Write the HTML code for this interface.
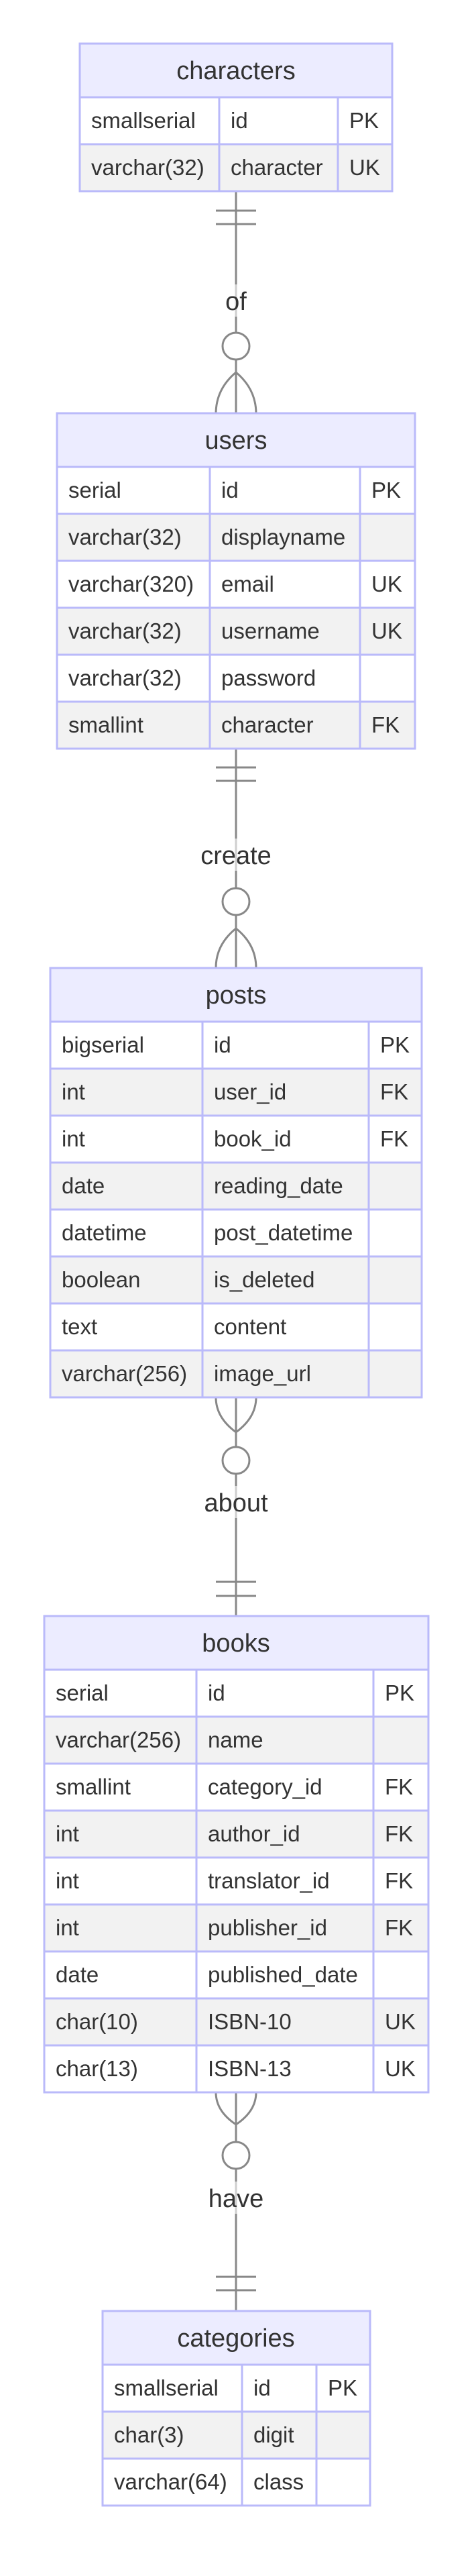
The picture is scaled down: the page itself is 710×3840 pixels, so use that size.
<!DOCTYPE html>
<html><head><meta charset="utf-8"><style>
html,body{margin:0;padding:0;background:#fff}
svg{display:block}
text{font-family:"Liberation Sans",Arial,sans-serif;fill:#333}
.c{font-size:33px}
.h{font-size:38px}
.l{font-size:38px}
.tb{fill:none;stroke:#babafa;stroke-width:3}
.ln{stroke:#888;stroke-width:3;fill:none}
</style></head><body>
<svg width="710" height="3840" viewBox="0 0 710 3840" xmlns="http://www.w3.org/2000/svg">
<!-- connectors -->
<g class="ln">
<line x1="352" y1="285" x2="352" y2="617"/>
<line x1="322" y1="314" x2="382" y2="314"/><line x1="322" y1="334" x2="382" y2="334"/>
<path d="M322,617 Q322,580 352,555 M382,617 Q382,580 352,555"/>
<circle cx="352" cy="516" r="20" fill="#fff"/>

<line x1="352" y1="1116" x2="352" y2="1443"/>
<line x1="322" y1="1144" x2="382" y2="1144"/><line x1="322" y1="1164" x2="382" y2="1164"/>
<path d="M322,1443 Q322,1408 352,1384 M382,1443 Q382,1408 352,1384"/>
<circle cx="352" cy="1344" r="20" fill="#fff"/>

<line x1="352" y1="2083" x2="352" y2="2409"/>
<line x1="322" y1="2358" x2="382" y2="2358"/><line x1="322" y1="2379" x2="382" y2="2379"/>
<path d="M322,2083 Q322,2113 352,2135 M382,2083 Q382,2113 352,2135"/>
<circle cx="352" cy="2177" r="20" fill="#fff"/>

<line x1="352" y1="3119" x2="352" y2="3445"/>
<line x1="322" y1="3394" x2="382" y2="3394"/><line x1="322" y1="3414" x2="382" y2="3414"/>
<path d="M322,3119 Q322,3147 352,3167 M382,3119 Q382,3147 352,3167"/>
<circle cx="352" cy="3213" r="20" fill="#fff"/>
</g>
<g fill="#fff" fill-opacity="0.6">
<rect x="330" y="424" width="44" height="48"/>
<rect x="297" y="1250" width="110" height="48"/>
<rect x="300" y="2215" width="104" height="48"/>
<rect x="308" y="3252" width="88" height="48"/>
</g>
<g class="l" text-anchor="middle">
<text x="352" y="462">of</text>
<text x="352" y="1288">create</text>
<text x="352" y="2253">about</text>
<text x="352" y="3290">have</text>
</g>

<!-- characters -->
<rect x="119" y="65" width="466" height="80" fill="#ececff"/>
<rect x="119" y="145" width="466" height="70" fill="#fff"/>
<rect x="119" y="215" width="466" height="70" fill="#f2f2f2"/>
<g class="tb"><rect x="119" y="65" width="466" height="220"/>
<line x1="119" y1="145" x2="585" y2="145"/><line x1="119" y1="215" x2="585" y2="215"/>
<line x1="327" y1="145" x2="327" y2="285"/><line x1="504" y1="145" x2="504" y2="285"/></g>
<text class="h" x="352" y="118" text-anchor="middle">characters</text>
<g class="c">
<text x="136" y="191">smallserial</text><text x="344" y="191">id</text><text x="521" y="191">PK</text>
<text x="136" y="261">varchar(32)</text><text x="344" y="261">character</text><text x="521" y="261">UK</text>
</g>

<!-- users -->
<rect x="85" y="616" width="534" height="80" fill="#ececff"/>
<rect x="85" y="696" width="534" height="70" fill="#fff"/>
<rect x="85" y="766" width="534" height="70" fill="#f2f2f2"/>
<rect x="85" y="836" width="534" height="70" fill="#fff"/>
<rect x="85" y="906" width="534" height="70" fill="#f2f2f2"/>
<rect x="85" y="976" width="534" height="70" fill="#fff"/>
<rect x="85" y="1046" width="534" height="70" fill="#f2f2f2"/>
<g class="tb"><rect x="85" y="616" width="534" height="500"/>
<line x1="85" y1="696" x2="619" y2="696"/><line x1="85" y1="766" x2="619" y2="766"/><line x1="85" y1="836" x2="619" y2="836"/><line x1="85" y1="906" x2="619" y2="906"/><line x1="85" y1="976" x2="619" y2="976"/><line x1="85" y1="1046" x2="619" y2="1046"/>
<line x1="313" y1="696" x2="313" y2="1116"/><line x1="537" y1="696" x2="537" y2="1116"/></g>
<text class="h" x="352" y="669" text-anchor="middle">users</text>
<g class="c">
<text x="102" y="742">serial</text><text x="330" y="742">id</text><text x="554" y="742">PK</text>
<text x="102" y="812">varchar(32)</text><text x="330" y="812">displayname</text>
<text x="102" y="882">varchar(320)</text><text x="330" y="882">email</text><text x="554" y="882">UK</text>
<text x="102" y="952">varchar(32)</text><text x="330" y="952">username</text><text x="554" y="952">UK</text>
<text x="102" y="1022">varchar(32)</text><text x="330" y="1022">password</text>
<text x="102" y="1092">smallint</text><text x="330" y="1092">character</text><text x="554" y="1092">FK</text>
</g>

<!-- posts -->
<rect x="75" y="1443" width="554" height="80" fill="#ececff"/>
<rect x="75" y="1523" width="554" height="70" fill="#fff"/>
<rect x="75" y="1593" width="554" height="70" fill="#f2f2f2"/>
<rect x="75" y="1663" width="554" height="70" fill="#fff"/>
<rect x="75" y="1733" width="554" height="70" fill="#f2f2f2"/>
<rect x="75" y="1803" width="554" height="70" fill="#fff"/>
<rect x="75" y="1873" width="554" height="70" fill="#f2f2f2"/>
<rect x="75" y="1943" width="554" height="70" fill="#fff"/>
<rect x="75" y="2013" width="554" height="70" fill="#f2f2f2"/>
<g class="tb"><rect x="75" y="1443" width="554" height="640"/>
<line x1="75" y1="1523" x2="629" y2="1523"/><line x1="75" y1="1593" x2="629" y2="1593"/><line x1="75" y1="1663" x2="629" y2="1663"/><line x1="75" y1="1733" x2="629" y2="1733"/><line x1="75" y1="1803" x2="629" y2="1803"/><line x1="75" y1="1873" x2="629" y2="1873"/><line x1="75" y1="1943" x2="629" y2="1943"/><line x1="75" y1="2013" x2="629" y2="2013"/>
<line x1="302" y1="1523" x2="302" y2="2083"/><line x1="550" y1="1523" x2="550" y2="2083"/></g>
<text class="h" x="352" y="1496" text-anchor="middle">posts</text>
<g class="c">
<text x="92" y="1569">bigserial</text><text x="319" y="1569">id</text><text x="567" y="1569">PK</text>
<text x="92" y="1639">int</text><text x="319" y="1639">user_id</text><text x="567" y="1639">FK</text>
<text x="92" y="1709">int</text><text x="319" y="1709">book_id</text><text x="567" y="1709">FK</text>
<text x="92" y="1779">date</text><text x="319" y="1779">reading_date</text>
<text x="92" y="1849">datetime</text><text x="319" y="1849">post_datetime</text>
<text x="92" y="1919">boolean</text><text x="319" y="1919">is_deleted</text>
<text x="92" y="1989">text</text><text x="319" y="1989">content</text>
<text x="92" y="2059">varchar(256)</text><text x="319" y="2059">image_url</text>
</g>

<!-- books -->
<rect x="66" y="2409" width="573" height="80" fill="#ececff"/>
<rect x="66" y="2489" width="573" height="70" fill="#fff"/>
<rect x="66" y="2559" width="573" height="70" fill="#f2f2f2"/>
<rect x="66" y="2629" width="573" height="70" fill="#fff"/>
<rect x="66" y="2699" width="573" height="70" fill="#f2f2f2"/>
<rect x="66" y="2769" width="573" height="70" fill="#fff"/>
<rect x="66" y="2839" width="573" height="70" fill="#f2f2f2"/>
<rect x="66" y="2909" width="573" height="70" fill="#fff"/>
<rect x="66" y="2979" width="573" height="70" fill="#f2f2f2"/>
<rect x="66" y="3049" width="573" height="70" fill="#fff"/>
<g class="tb"><rect x="66" y="2409" width="573" height="710"/>
<line x1="66" y1="2489" x2="639" y2="2489"/><line x1="66" y1="2559" x2="639" y2="2559"/><line x1="66" y1="2629" x2="639" y2="2629"/><line x1="66" y1="2699" x2="639" y2="2699"/><line x1="66" y1="2769" x2="639" y2="2769"/><line x1="66" y1="2839" x2="639" y2="2839"/><line x1="66" y1="2909" x2="639" y2="2909"/><line x1="66" y1="2979" x2="639" y2="2979"/><line x1="66" y1="3049" x2="639" y2="3049"/>
<line x1="293" y1="2489" x2="293" y2="3119"/><line x1="557" y1="2489" x2="557" y2="3119"/></g>
<text class="h" x="352" y="2462" text-anchor="middle">books</text>
<g class="c">
<text x="83" y="2535">serial</text><text x="310" y="2535">id</text><text x="574" y="2535">PK</text>
<text x="83" y="2605">varchar(256)</text><text x="310" y="2605">name</text>
<text x="83" y="2675">smallint</text><text x="310" y="2675">category_id</text><text x="574" y="2675">FK</text>
<text x="83" y="2745">int</text><text x="310" y="2745">author_id</text><text x="574" y="2745">FK</text>
<text x="83" y="2815">int</text><text x="310" y="2815">translator_id</text><text x="574" y="2815">FK</text>
<text x="83" y="2885">int</text><text x="310" y="2885">publisher_id</text><text x="574" y="2885">FK</text>
<text x="83" y="2955">date</text><text x="310" y="2955">published_date</text>
<text x="83" y="3025">char(10)</text><text x="310" y="3025">ISBN-10</text><text x="574" y="3025">UK</text>
<text x="83" y="3095">char(13)</text><text x="310" y="3095">ISBN-13</text><text x="574" y="3095">UK</text>
</g>

<!-- categories -->
<rect x="153" y="3445" width="399" height="80" fill="#ececff"/>
<rect x="153" y="3525" width="399" height="70" fill="#fff"/>
<rect x="153" y="3595" width="399" height="70" fill="#f2f2f2"/>
<rect x="153" y="3665" width="399" height="70" fill="#fff"/>
<g class="tb"><rect x="153" y="3445" width="399" height="290"/>
<line x1="153" y1="3525" x2="552" y2="3525"/><line x1="153" y1="3595" x2="552" y2="3595"/><line x1="153" y1="3665" x2="552" y2="3665"/>
<line x1="361" y1="3525" x2="361" y2="3735"/><line x1="472" y1="3525" x2="472" y2="3735"/></g>
<text class="h" x="352" y="3498" text-anchor="middle">categories</text>
<g class="c">
<text x="170" y="3571">smallserial</text><text x="378" y="3571">id</text><text x="489" y="3571">PK</text>
<text x="170" y="3641">char(3)</text><text x="378" y="3641">digit</text>
<text x="170" y="3711">varchar(64)</text><text x="378" y="3711">class</text>
</g>
</svg>
</body></html>
